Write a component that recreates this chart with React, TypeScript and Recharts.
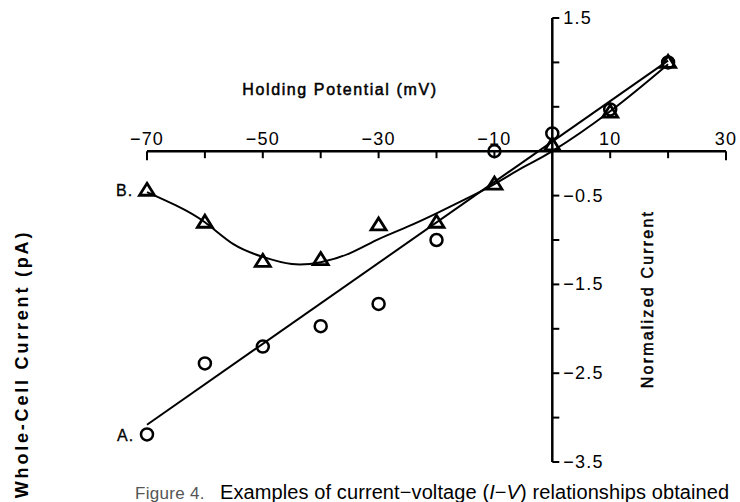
import React from 'react';
import { ComposedChart, Line, Scatter, XAxis, YAxis, ReferenceLine } from 'recharts';

// holding potentials (mV)
const voltages = [-70, -60, -50, -40, -30, -20, -10, 0, 10, 20];
// cell A (circles) and cell B (triangles), normalized current
const cellA = [-3.19, -2.39, -2.2, -1.97, -1.72, -1.0, 0.0, 0.2, 0.47, 1.0];
const cellB = [-0.44, -0.8, -1.24, -1.22, -0.83, -0.8, -0.37, 0.07, 0.44, 1.0];

// fitted line for A (straight) and smooth curve for B
const fitAX = [-70, 20];
const fitAY = [-3.08, 1.02];
const curveBX = [-70, -65, -60, -55, -50, -45, -40, -35, -30, -25, -20, -15, -10, -5, 0, 10, 20];
const curveBY = [-0.46, -0.61, -0.8, -1.05, -1.19, -1.27, -1.25, -1.15, -0.99, -0.85, -0.7, -0.54, -0.37, -0.18, 0.0, 0.45, 0.98];

// axis ticks
const xTicks = [-70, -60, -50, -40, -30, -20, -10, 0, 10, 20, 30];
const xLabelValues = [-70, -50, -30, -10, 10, 30];
const xLabelText = ['−70', '−50', '−30', '−10', '10', '30'];
const yTicks = [-3.5, -3, -2.5, -2, -1.5, -1, -0.5, 0, 0.5, 1, 1.5];
const yLabelValues = [1.5, -0.5, -1.5, -2.5, -3.5];
const yLabelText = ['1.5', '−0.5', '−1.5', '−2.5', '−3.5'];

const pointsA = voltages.map((v, i) => ({ x: v, y: cellA[i] }));
const pointsB = voltages.map((v, i) => ({ x: v, y: cellB[i] }));
const lineA = fitAX.map((v, i) => ({ x: v, y: fitAY[i] }));
const lineB = curveBX.map((v, i) => ({ x: v, y: curveBY[i] }));
const xTickPts = xTicks.filter((v) => v !== 0).map((v) => ({ x: v, y: 0 }));
const yTickPts = yTicks.filter((v) => v !== 0).map((v) => ({ x: 0, y: v }));
const xLabelPts = xLabelValues.map((v, i) => ({ x: v, y: 0, label: xLabelText[i] }));
const yLabelPts = yLabelValues.map((v, i) => ({ x: 0, y: v, label: yLabelText[i] }));

const font = '"Liberation Sans", Arial, Helvetica, sans-serif';

const circle = (p: any) => (
  <circle cx={p.cx} cy={p.cy} r={6} fill="none" stroke="#000" strokeWidth={2.5} />
);
const triangle = (p: any) => (
  <path
    d={`M${p.cx},${p.cy - 7} L${p.cx + 7.5},${p.cy + 5} L${p.cx - 7.5},${p.cy + 5} Z`}
    fill="none"
    stroke="#000"
    strokeWidth={2.8}
  />
);
const xTickMark = (p: any) => {
  const len = p.payload.x === -70 || p.payload.x === 30 ? 9 : 7;
  return <line x1={p.cx} y1={p.cy} x2={p.cx} y2={p.cy + len} stroke="#000" strokeWidth={2} />;
};
const yTickMark = (p: any) => (
  <line x1={p.cx} y1={p.cy} x2={p.cx + 7} y2={p.cy} stroke="#000" strokeWidth={2} />
);
const xLabel = (p: any) => (
  <text x={p.cx} y={p.cy - 6} textAnchor="middle" fontSize={18} letterSpacing={1.2} fontFamily={font} fill="#000">
    {p.payload.label}
  </text>
);
const yLabel = (p: any) => (
  <text x={p.cx + 11} y={p.cy + 6} textAnchor="start" fontSize={18} letterSpacing={1.2} fontFamily={font} fill="#000">
    {p.payload.label}
  </text>
);

export default function App() {
  return (
    <div style={{ position: 'relative', width: 740, height: 502, background: '#fff', overflow: 'hidden' }}>
      <style>{`body{margin:0}`}</style>
      <ComposedChart width={740} height={502} margin={{ top: 18, right: 14, bottom: 40, left: 147 }}>
        <XAxis dataKey="x" type="number" domain={[-70, 30]} hide />
        <YAxis type="number" domain={[-3.5, 1.5]} hide />
        <ReferenceLine x={0} stroke="#000" strokeWidth={2.5} />
        <ReferenceLine y={0} stroke="#000" strokeWidth={2.5} />
        <Scatter data={xTickPts} dataKey="y" shape={xTickMark} isAnimationActive={false} />
        <Scatter data={yTickPts} dataKey="y" shape={yTickMark} isAnimationActive={false} />
        <Scatter data={xLabelPts} dataKey="y" shape={xLabel} isAnimationActive={false} />
        <Scatter data={yLabelPts} dataKey="y" shape={yLabel} isAnimationActive={false} />
        <Line data={lineA} dataKey="y" type="linear" stroke="#000" strokeWidth={2} dot={false} isAnimationActive={false} />
        <Line data={lineB} dataKey="y" type="natural" stroke="#000" strokeWidth={2} dot={false} isAnimationActive={false} />
        <Scatter data={pointsA} dataKey="y" shape={circle} isAnimationActive={false} />
        <Scatter data={pointsB} dataKey="y" shape={triangle} isAnimationActive={false} />
      </ComposedChart>
      <svg width={740} height={502} style={{ position: 'absolute', left: 0, top: 0, pointerEvents: 'none' }}>
        <text
          x={340}
          y={95}
          textAnchor="middle"
          fontSize={16}
          letterSpacing={1.6}
          fontFamily={font}
          stroke="#000"
          strokeWidth={0.5}
        >
          Holding Potential (mV)
        </text>
        <text
          x={647}
          y={299}
          textAnchor="middle"
          fontSize={16}
          letterSpacing={2.2}
          fontFamily={font}
          stroke="#000"
          strokeWidth={0.5}
          transform="rotate(-90 647 299)"
          dy={6}
        >
          Normalized Current
        </text>
        <text
          x={22}
          y={364}
          textAnchor="middle"
          fontSize={18}
          letterSpacing={2.8}
          fontFamily={font}
          fontWeight={700}
          transform="rotate(-90 22 364)"
          dy={6}
        >
          Whole-Cell Current (pA)
        </text>
        <text x={116} y={196} fontSize={16} letterSpacing={1} fontFamily={font} stroke="#000" strokeWidth={0.3}>B.</text>
        <text x={117} y={441} fontSize={16} letterSpacing={1} fontFamily={font} stroke="#000" strokeWidth={0.3}>A.</text>
        <text x={135} y={499} fontSize={17} letterSpacing={0.3} fontFamily={font} fill="#555">
          Figure 4.
        </text>
        <text x={220} y={499} fontSize={20} letterSpacing={0.1} fontFamily={font} fill="#000">
          Examples of current−voltage (<tspan fontStyle="italic">I</tspan>−<tspan fontStyle="italic">V</tspan>) relationships obtained
        </text>
      </svg>
    </div>
  );
}
